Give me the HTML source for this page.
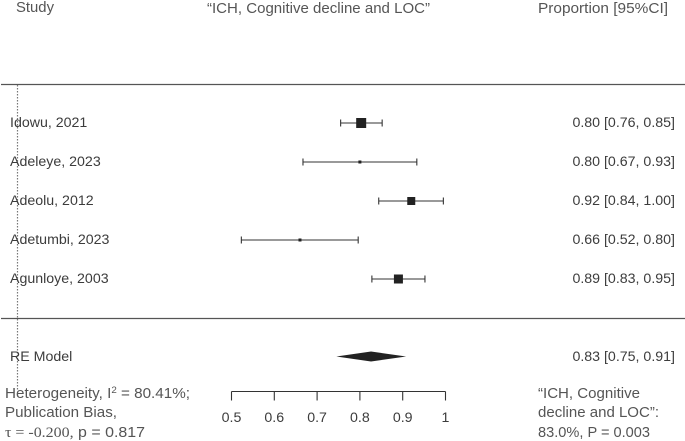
<!DOCTYPE html>
<html>
<head>
<meta charset="utf-8">
<style>
html,body{margin:0;padding:0;background:#fff;}
svg{display:block;filter:blur(0.35px);}
text{font-family:"Liberation Sans",sans-serif;}
.hd{font-size:14.8px;fill:#555;}
.row{font-size:14.2px;fill:#3c3c3c;}
</style>
</head>
<body>
<svg id="chart" xmlns="http://www.w3.org/2000/svg" width="685" height="441" viewBox="0 0 685 441">
  <line x1="1" x2="685" y1="84.5" y2="84.5" stroke="#555" stroke-width="1.2"/>
  <line x1="1" x2="685" y1="318.5" y2="318.5" stroke="#555" stroke-width="1.2"/>
  <line x1="17.5" x2="17.5" y1="85" y2="390" stroke="#777" stroke-width="1.2" stroke-dasharray="1.5 1.5"/>
  <text class="hd" x="16" y="12" textLength="38" lengthAdjust="spacingAndGlyphs">Study</text>
  <text class="hd" x="207" y="13" textLength="223" lengthAdjust="spacingAndGlyphs">“ICH, Cognitive decline and LOC”</text>
  <text class="hd" x="538" y="13" textLength="130" lengthAdjust="spacingAndGlyphs">Proportion [95%CI]</text>
  <text class="hd" x="5" y="398" textLength="185" lengthAdjust="spacingAndGlyphs">Heterogeneity, I<tspan dy="-5" font-size="9.5">2</tspan><tspan dy="5"> = 80.41%;</tspan></text>
  <text class="hd" x="5" y="417" textLength="112" lengthAdjust="spacingAndGlyphs">Publication Bias,</text>
  <text class="hd" x="5" y="437" textLength="140" lengthAdjust="spacingAndGlyphs"><tspan style="font-family:'Liberation Serif',serif">τ = -0.200,</tspan> p = 0.817</text>
  <text class="hd" x="538" y="398" textLength="102" lengthAdjust="spacingAndGlyphs">“ICH, Cognitive</text>
  <text class="hd" x="538" y="417" textLength="121" lengthAdjust="spacingAndGlyphs">decline and LOC”:</text>
  <text class="hd" x="538" y="437" textLength="112" lengthAdjust="spacingAndGlyphs">83.0%, P = 0.003</text>
</svg>
<script>
var studies = ["Idowu, 2021", "Adeleye, 2023", "Adeolu, 2012", "Adetumbi, 2023", "Agunloye, 2003"];
var estimates = [0.803, 0.80, 0.92, 0.66, 0.89];
var lowers = [0.755, 0.667, 0.844, 0.523, 0.828];
var uppers = [0.852, 0.933, 0.995, 0.796, 0.952];
var weights = [10, 3, 8, 3, 9];
var printedValues = ["0.80 [0.76, 0.85]", "0.80 [0.67, 0.93]", "0.92 [0.84, 1.00]", "0.66 [0.52, 0.80]", "0.89 [0.83, 0.95]"];
var summaryEstimate = 0.826;
var summaryLower = 0.745;
var summaryUpper = 0.908;
var summaryLabel = "RE Model";
var summaryPrinted = "0.83 [0.75, 0.91]";
var tickValues = [0.5, 0.6, 0.7, 0.8, 0.9, 1];
var tickLabels = ["0.5", "0.6", "0.7", "0.8", "0.9", "1"];

var svg = document.getElementById('chart');
var NS = 'http://www.w3.org/2000/svg';
function xScale(v) { return 231.5 + (v - 0.5) * 428; }
function yRow(i) { return 123 + i * 39; }
function make(tag, props) {
  var el = document.createElementNS(NS, tag);
  for (var k in props) { el.setAttribute(k, props[k]); }
  svg.appendChild(el);
  return el;
}
var stroke = '#333';
studies.forEach(function (name, i) {
  var y = yRow(i);
  var label = make('text', { x: 10, y: y + 4, 'class': 'row' });
  
  
  label.textContent = name;

  var value = make('text', { x: 675, y: y + 4, 'class': 'row', 'text-anchor': 'end' });
  
  
  value.textContent = printedValues[i];

  var ci = make('line', { x1: xScale(lowers[i]), x2: xScale(uppers[i]), y1: y, y2: y, stroke: stroke, 'stroke-width': 1.1 });
  
  

  var capL = make('line', { x1: xScale(lowers[i]), x2: xScale(lowers[i]), y1: y - 3.5, y2: y + 3.5, stroke: stroke, 'stroke-width': 1.1 });
  
  

  var capU = make('line', { x1: xScale(uppers[i]), x2: xScale(uppers[i]), y1: y - 3.5, y2: y + 3.5, stroke: stroke, 'stroke-width': 1.1 });
  
  

  var s = weights[i];
  var box = make('rect', { x: xScale(estimates[i]) - s / 2, y: y - s / 2, width: s, height: s, fill: '#222' });
  
  
});

var reY = 356.5;
var reLabel = make('text', { x: 10, y: 361, 'class': 'row' });


reLabel.textContent = summaryLabel;

var reValue = make('text', { x: 675, y: 361, 'class': 'row', 'text-anchor': 'end' });


reValue.textContent = summaryPrinted;

var diamond = make('polygon', {
  points: [
    xScale(summaryLower) + ',' + reY,
    xScale(summaryEstimate) + ',' + (reY - 5),
    xScale(summaryUpper) + ',' + reY,
    xScale(summaryEstimate) + ',' + (reY + 5)
  ].join(' '),
  fill: '#222'
});



var axisY = 391.5;
var axis = make('line', { x1: xScale(tickValues[0]), x2: xScale(tickValues[tickValues.length - 1]), y1: axisY, y2: axisY, stroke: stroke, 'stroke-width': 1.1 });



tickValues.forEach(function (t, i) {
  var tick = make('line', { x1: xScale(t), x2: xScale(t), y1: axisY, y2: axisY + 9, stroke: stroke, 'stroke-width': 1.1 });
  
  

  var lab = make('text', { x: xScale(t), y: 422, 'class': 'row', 'text-anchor': 'middle' });
  
  
  lab.textContent = tickLabels[i];
});
</script>
</body>
</html>
